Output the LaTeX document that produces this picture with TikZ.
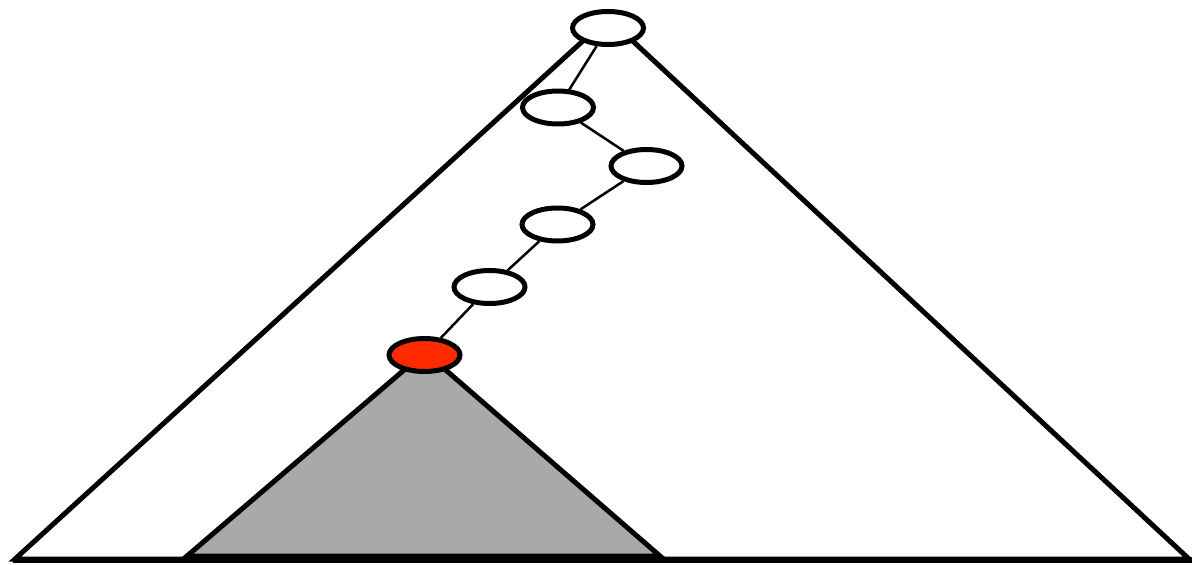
\documentclass[tikz,border=0pt]{standalone}
\usetikzlibrary{shapes.geometric}
\definecolor{redfill}{RGB}{255,42,0}
\definecolor{grayfill}{RGB}{169,169,169}
\tikzset{
  treenode/.style={ellipse, draw=black, fill=white, line width=0.1cm, inner sep=0pt, minimum width=1.42cm, minimum height=0.66cm},
  rednode/.style={treenode, fill=redfill},
  thick tri/.style={line width=0.1cm, line join=miter},
  link/.style={line width=0.05cm}
}
\begin{document}
\begin{tikzpicture}[x=0.02cm, y=-0.02cm]
\useasboundingbox (0,0) rectangle (1192,564);
% big triangle
\draw[thick tri] (15,559) -- (608,18) -- (1189,559) -- cycle;
\draw[line width=0.12cm] (13,559.5) -- (1192,559.5);
% gray subtree
\draw[thick tri, fill=grayfill] (187,556) -- (425,352) -- (660,556) -- cycle;
% nodes
\node[treenode] (n1) at (608,28) {};
\node[treenode] (n2) at (558,107.5) {};
\node[treenode] (n3) at (646.5,166) {};
\node[treenode] (n4) at (557.5,224.5) {};
\node[treenode] (n5) at (489.5,287) {};
\node[rednode] (n6) at (424.5,355) {};
% connectors
\draw[link] (n1) -- (n2);
\draw[link] (n2) -- (n3);
\draw[link] (n3) -- (n4);
\draw[link] (n4) -- (n5);
\draw[link] (n5) -- (n6);
\end{tikzpicture}
\end{document}
